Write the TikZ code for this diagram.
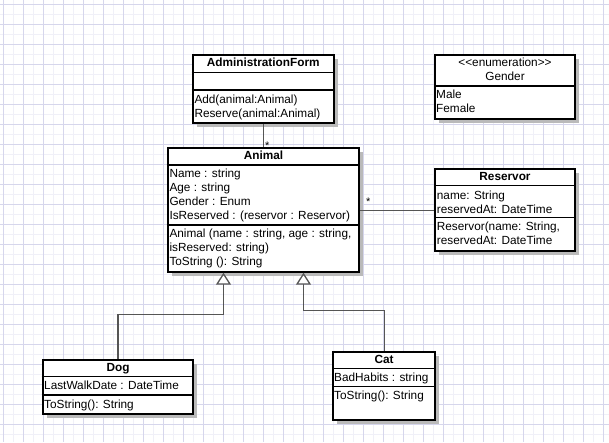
\documentclass[tikz,border=0pt]{standalone}
\usepackage{fontspec}
\setmainfont{Liberation Sans}
\usetikzlibrary{arrows.meta,shadows,calc}
\definecolor{gridmaj}{RGB}{214,214,236}
\definecolor{gridmin}{RGB}{240,240,248}
\definecolor{connc}{RGB}{85,85,85}
\definecolor{shadowc}{RGB}{186,186,186}
\begin{document}
\begin{tikzpicture}[x=1pt,y=-1pt,
  umlbox/.style={draw=black, line width=2pt, fill=white, inner sep=0pt, anchor=north west,
    drop shadow={shadow xshift=4pt,shadow yshift=-4pt,fill=shadowc,opacity=1}},
  sepline/.style={black, line width=1.5pt},
  txt/.style={font=\fontsize{11.8}{14}\selectfont, inner sep=0pt, anchor=base west},
  ttl/.style={font=\fontsize{11.8}{14}\selectfont\bfseries, inner sep=0pt, anchor=base},
  plainttl/.style={font=\fontsize{11.8}{14}\selectfont, inner sep=0pt, anchor=base},
  conn/.style={draw=connc, line width=1.3pt},
  inherit/.style={conn, -{Triangle[open, length=12pt, width=15pt, fill=white]}},
  mult/.style={font=\fontsize{11}{14}\selectfont, inner sep=0pt, anchor=base}
]
\useasboundingbox (0,0) rectangle (609,442);
\fill[white] (0,0) rectangle (609,442);
% grid
\foreach \x in {13,33,...,603} \draw[gridmin, line width=0.6pt] (\x,0) -- (\x,442);
\foreach \y in {14,34,...,442} \draw[gridmin, line width=0.6pt] (0,\y) -- (609,\y);
\foreach \x in {3,23,...,603} \draw[gridmaj, line width=0.8pt] (\x,0) -- (\x,442);
\foreach \y in {4,24,...,442} \draw[gridmaj, line width=0.8pt] (0,\y) -- (609,\y);

% AdministrationForm
\node[umlbox, minimum width=141pt, minimum height=67.7pt] (admin) at (191.7,54) {};
\draw[sepline] (admin.west |- 0,72.3) -- (admin.east |- 0,72.3);
\draw[sepline] (admin.west |- 0,90) -- (admin.east |- 0,90);
\node[ttl] (admint) at (admin.north |- 0,66.7) {AdministrationForm};
\node[txt] (adminm1) at (194.3,103.5) {Add(animal:Animal)};
\node[txt] (adminm2) at (194.3,117) {Reserve(animal:Animal)};

% Gender
\node[umlbox, minimum width=140pt, minimum height=64.3pt] (gender) at (434,54) {};
\draw[sepline] (gender.west |- 0,86) -- (gender.east |- 0,86);
\node[plainttl] (genders) at (gender.north |- 0,66) {<\kern0pt<enumeration>\kern0pt>};
\node[plainttl] (gendert) at (gender.north |- 0,80) {Gender};
\node[txt] (gender1) at (436,98) {Male};
\node[txt] (gender2) at (436,112) {Female};

% Animal
\node[umlbox, minimum width=191.6pt, minimum height=124pt] (animal) at (166.7,146.7) {};
\draw[sepline] (animal.west |- 0,165) -- (animal.east |- 0,165);
\draw[sepline] (animal.west |- 0,225) -- (animal.east |- 0,225);
\node[ttl] (animalt) at (animal.north |- 0,159.7) {Animal};
\node[txt] (animala1) at (169.3,177.3) {Name : string};
\node[txt] (animala2) at (169.3,191.3) {Age : string};
\node[txt] (animala3) at (169.3,205.3) {Gender : Enum};
\node[txt] (animala4) at (169.3,219.3) {IsReserved : (reservor : Reservor)};
\node[txt] (animalm1) at (169.3,237.3) {Animal (name : string, age : string,};
\node[txt] (animalm2) at (169.3,251.3) {isReserved: string)};
\node[txt] (animalm3) at (169.3,265) {ToString (): String};

% Reservor
\node[umlbox, minimum width=140pt, minimum height=81.7pt] (reservor) at (434,168.3) {};
\draw[sepline] (reservor.west |- 0,185.7) -- (reservor.east |- 0,185.7);
\draw[sepline] (reservor.west |- 0,217.7) -- (reservor.east |- 0,217.7);
\node[ttl] (reservort) at (reservor.north |- 0,180.7) {Reservor};
\node[txt] (reservora1) at (436.7,199) {name: String};
\node[txt] (reservora2) at (436.7,213) {reservedAt: DateTime};
\node[txt] (reservorm1) at (436.7,230.7) {Reservor(name: String,};
\node[txt] (reservorm2) at (436.7,244.7) {reservedAt: DateTime};

% Dog
\node[umlbox, minimum width=150.6pt, minimum height=54.3pt] (dog) at (41.7,359) {};
\draw[sepline] (dog.west |- 0,376.7) -- (dog.east |- 0,376.7);
\draw[sepline] (dog.west |- 0,395) -- (dog.east |- 0,395);
\node[ttl] (dogt) at (dog.north |- 0,371.3) {Dog};
\node[txt] (doga1) at (44,389.7) {LastWalkDate : DateTime};
\node[txt] (dogm1) at (44,408) {ToString(): String};

% Cat
\node[umlbox, minimum width=101.7pt, minimum height=68.3pt] (cat) at (332.3,350.7) {};
\draw[sepline] (cat.west |- 0,368.3) -- (cat.east |- 0,368.3);
\draw[sepline] (cat.west |- 0,386.7) -- (cat.east |- 0,386.7);
\node[ttl] (catt) at (cat.north |- 0,363.3) {Cat};
\node[txt] (cata1) at (334,381.7) {BadHabits : string};
\node[txt] (catm1) at (334,399.7) {ToString(): String};

% connectors
\coordinate (dogtip) at ($(animal.south)+(-40,0)$);
\coordinate (cattip) at ($(animal.south)+(40,0)$);
\draw[conn] (admin.south) -- (admin.south |- animal.north);
\draw[conn] (animal.east |- reservor.west) -- (reservor.west);
\draw[inherit] (dog.north) -- ++(0,-44.7) -| (dogtip);
\draw[inherit] (cat.north) -- ++(0,-40) -| (cattip);
\node[mult] (mult1) at (267.3,149.5) {*};
\node[mult] (mult2) at (368.3,205.3) {*};
\end{tikzpicture}
\end{document}
